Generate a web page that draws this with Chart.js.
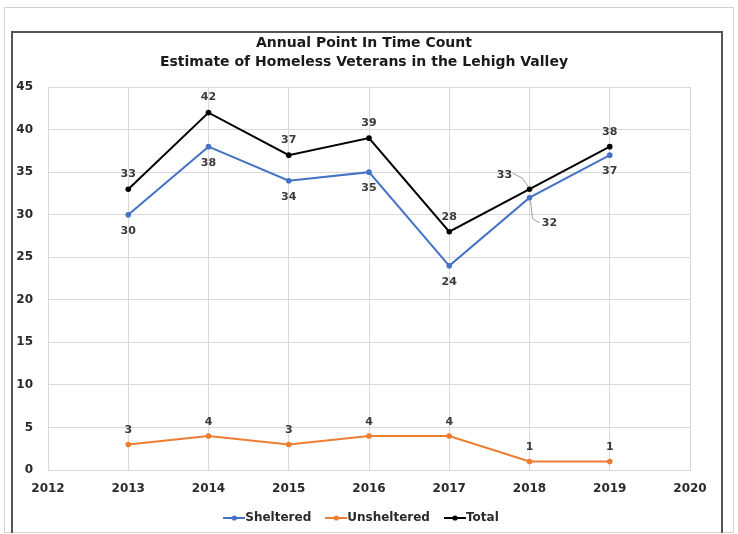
<!DOCTYPE html>
<html>
<head>
<meta charset="utf-8">
<script src="https://cdn.jsdelivr.net/npm/chart.js@4.4.1/dist/chart.umd.min.js"></script>
<style>
  html, body { margin: 0; padding: 0; background: #fff; }
  #wrap { position: relative; width: 738px; height: 534px; }
  #outer { position: absolute; left: 4px; top: 7px; width: 728px; height: 524px; border: 1px solid #d0d0d0; }
  #inner { position: absolute; left: 11px; top: 31px; width: 708px; height: 500px; border: 2px solid #555; border-bottom: 0; }
  #myChart { position: absolute; left: 0; top: 0; }
</style>
</head>
<body>
<div id="wrap">
  <div id="outer"></div>
  <div id="inner"></div>
  <canvas id="myChart" width="738" height="534"></canvas>
</div>
<script>
const years = [2013, 2014, 2015, 2016, 2017, 2018, 2019];
const sheltered = [30, 38, 34, 35, 24, 32, 37];
const unsheltered = [3, 4, 3, 4, 4, 1, 1];
const total = [33, 42, 37, 39, 28, 33, 38];
const seriesNames = ['Sheltered', 'Unsheltered', 'Total'];
const titleLines = ['Annual Point In Time Count', 'Estimate of Homeless Veterans in the Lehigh Valley'];

const FONT = "'DejaVu Sans', 'Liberation Sans', Arial, sans-serif";
const colors = ['#4472C4', '#ED7D31', '#000000'];

// little line+dot marker for legend entries
function legendMarker(color) {
    const c = document.createElement('canvas');
    c.width = 22; c.height = 8;
    const g = c.getContext('2d');
    g.strokeStyle = color; g.lineWidth = 2;
    g.beginPath(); g.moveTo(0, 4); g.lineTo(22, 4); g.stroke();
    g.fillStyle = color;
    g.beginPath(); g.arc(11, 4, 2.6, 0, Math.PI * 2); g.fill();
    return c;
}

function toPoints(values) {
    return values.map((v, i) => ({ x: years[i], y: v }));
}

// label offsets per dataset: [dx, dy], optional leader line points relative to the data point
const labelPlacement = [
    { def: [0, 16], special: { 5: { off: [20, 25], leader: [[1, 3], [3, 21], [10, 25]] } } },
    { def: [0, -14], special: {} },
    { def: [0, -15], special: { 5: { off: [-25, -14], leader: [[-1, -2], [-7, -11], [-17, -16]] } } }
];

const valueLabels = {
    id: 'valueLabels',
    afterDatasetsDraw(chart) {
        const ctx = chart.ctx;
        ctx.save();
        ctx.font = 'bold 11px ' + FONT;
        ctx.fillStyle = '#3a3a3a';
        ctx.textAlign = 'center';
        ctx.textBaseline = 'middle';
        chart.data.datasets.forEach((ds, di) => {
            const meta = chart.getDatasetMeta(di);
            const place = labelPlacement[di];
            meta.data.forEach((pt, i) => {
                const sp = place.special[i];
                const off = sp ? sp.off : place.def;
                if (sp && sp.leader) {
                    ctx.strokeStyle = '#a0a0a0';
                    ctx.lineWidth = 1;
                    ctx.beginPath();
                    sp.leader.forEach((p, k) => {
                        if (k === 0) ctx.moveTo(pt.x + p[0], pt.y + p[1]);
                        else ctx.lineTo(pt.x + p[0], pt.y + p[1]);
                    });
                    ctx.stroke();
                }
                ctx.fillText(String(ds.data[i].y), pt.x + off[0], pt.y + off[1]);
            });
        });
        ctx.restore();
    }
};

const data = {
    datasets: [
        { label: seriesNames[0], data: toPoints(sheltered) },
        { label: seriesNames[1], data: toPoints(unsheltered) },
        { label: seriesNames[2], data: toPoints(total) }
    ].map((d, i) => Object.assign(d, {
        borderColor: colors[i],
        backgroundColor: colors[i],
        borderWidth: 2,
        pointRadius: 2.8,
        pointBorderWidth: 0,
        pointHoverRadius: 2.8,
        tension: 0
    }))
};

const config = {
    type: 'line',
    data: data,
    plugins: [valueLabels],
    options: {
        responsive: false,
        animation: false,
        layout: { padding: { left: 12, right: 22, top: 34, bottom: 0 } },
        scales: {
            x: {
                type: 'linear',
                min: 2012,
                max: 2020,
                ticks: {
                    stepSize: 1,
                    padding: 12,
                    color: '#2a2a2a',
                    font: { family: FONT, size: 12, weight: 'bold' },
                    callback: v => String(v)
                },
                grid: { color: '#d9d9d9', drawTicks: false },
                border: { color: '#d9d9d9' },
                afterFit: s => { s.height = 22; }
            },
            y: {
                min: 0,
                max: 45,
                ticks: {
                    stepSize: 5,
                    padding: 15,
                    color: '#2a2a2a',
                    font: { family: FONT, size: 12, weight: 'bold' }
                },
                grid: { color: '#d9d9d9', drawTicks: false },
                border: { display: false },
                afterFit: s => { s.width = 36; }
            },
            // empty right-hand spacer so title and legend sit centred like the original
            spacer: {
                type: 'linear',
                position: 'right',
                min: 0,
                max: 1,
                ticks: { display: false },
                grid: { display: false, drawTicks: false },
                border: { display: false },
                afterFit: s => { s.width = 26; }
            }
        },
        plugins: {
            title: {
                display: true,
                text: titleLines,
                color: '#1a1a1a',
                font: { family: FONT, size: 14, weight: 'bold', lineHeight: 1.36 },
                padding: { top: 0, bottom: 15 }
            },
            legend: {
                position: 'bottom',
                labels: {
                    usePointStyle: true,
                    pointStyleWidth: 10,
                    padding: 20,
                    color: '#2a2a2a',
                    font: { family: FONT, size: 12, weight: 'bold' },
                    generateLabels: chart => chart.data.datasets.map((ds, i) => ({
                        text: ds.label,
                        fillStyle: colors[i],
                        strokeStyle: colors[i],
                        fontColor: '#2a2a2a',
                        lineWidth: 0,
                        pointStyle: legendMarker(colors[i]),
                        datasetIndex: i,
                        hidden: false
                    }))
                }
            },
            tooltip: { enabled: false }
        }
    }
};

new Chart(document.getElementById('myChart'), config);
</script>
</body>
</html>
